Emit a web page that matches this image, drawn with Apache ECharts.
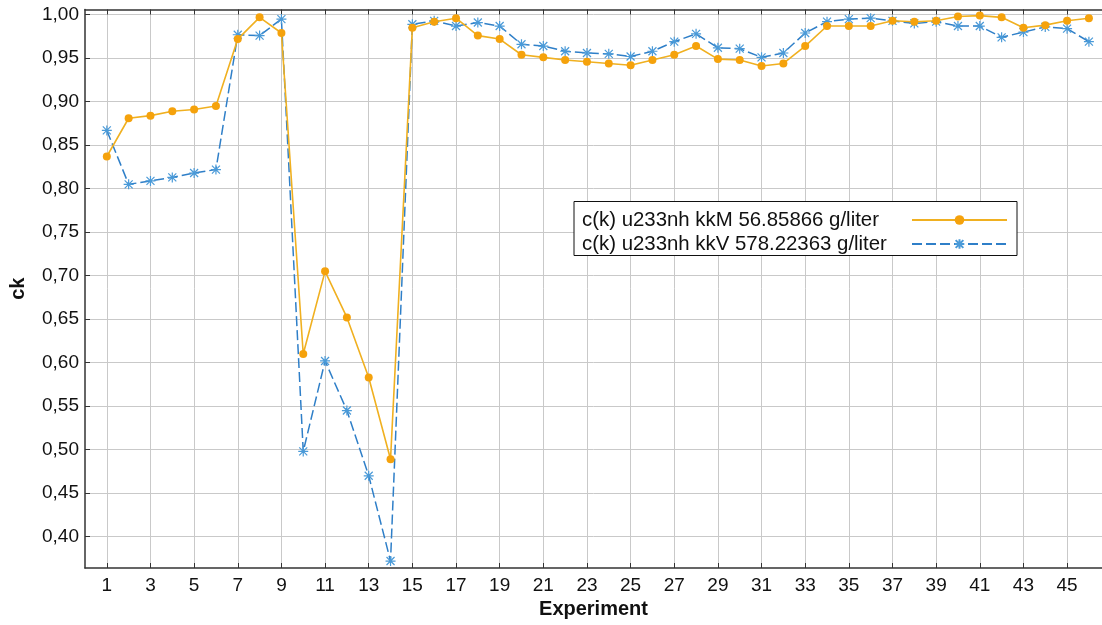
<!DOCTYPE html>
<html>
<head>
<meta charset="utf-8">
<script src="https://cdn.jsdelivr.net/npm/echarts@6/dist/echarts.min.js"></script>
<style>
html,body{margin:0;padding:0;background:#fff;}
#chart{width:1102px;height:625px;}
</style>
</head>
<body>
<div id="chart"></div>
<script>
const experiments = [1,2,3,4,5,6,7,8,9,10,11,12,13,14,15,16,17,18,19,20,21,22,23,24,25,26,27,28,29,30,31,32,33,34,35,36,37,38,39,40,41,42,43,44,45,46];
const kkM = [0.837,0.881,0.884,0.889,0.891,0.895,0.972,0.997,0.979,0.610,0.705,0.652,0.583,0.489,0.985,0.992,0.996,0.976,0.972,0.954,0.951,0.948,0.946,0.944,0.942,0.948,0.954,0.964,0.949,0.948,0.941,0.944,0.964,0.987,0.987,0.987,0.993,0.992,0.993,0.998,0.999,0.997,0.985,0.988,0.993,0.996];
const kkV = [0.867,0.805,0.809,0.813,0.818,0.822,0.977,0.976,0.995,0.498,0.602,0.545,0.470,0.372,0.989,0.993,0.987,0.991,0.987,0.966,0.964,0.958,0.956,0.955,0.952,0.958,0.969,0.978,0.962,0.961,0.951,0.956,0.979,0.992,0.995,0.996,0.993,0.990,0.992,0.987,0.987,0.974,0.980,0.986,0.984,0.969];
const xTicks = [1,3,5,7,9,11,13,15,17,19,21,23,25,27,29,31,33,35,37,39,41,43,45];
const yTicks = [0.40,0.45,0.50,0.55,0.60,0.65,0.70,0.75,0.80,0.85,0.90,0.95,1.00];
const seriesNames = ['c(k) u233nh kkM 56.85866 g/liter','c(k) u233nh kkV 578.22363 g/liter'];

const FONT = 'Liberation Sans, Arial, sans-serif';
const pairs = (ys) => experiments.map((x, i) => [x, ys[i]]);
const gridColor = '#c9c9c9';
const axisColor = '#333';

const chart = echarts.init(document.getElementById('chart'), null, {renderer:'canvas'});
chart.setOption({
  animation: false,
  backgroundColor: '#fff',
  grid: {left: 85, right: 0, top: 9.5, bottom: 57, containLabel: false},
  legend: {
    orient: 'vertical',
    left: 574, top: 201.5,
    align: 'right',
    backgroundColor: '#fff',
    borderColor: '#111', borderWidth: 1, borderRadius: 0,
    padding: [7, 9, 0, 8],
    itemGap: 1,
    itemWidth: 95, itemHeight: 12,
    formatter: name => '{t|' + name + '}',
    textStyle: {fontFamily: FONT, fontSize: 20.4, color: '#111', lineHeight: 23,
      rich: {t: {fontFamily: FONT, fontSize: 20.4, color: '#111', lineHeight: 23, width: 325, align: 'left'}}},
    data: seriesNames
  },
  xAxis: [{
    type: 'value', min: 0, max: 46.6,
    axisLine: {lineStyle: {color: axisColor, width: 1.5}},
    axisTick: {inside: true, length: 5, customValues: xTicks, lineStyle: {color: axisColor}},
    axisLabel: {customValues: xTicks, fontFamily: FONT, fontSize: 19, color: '#111', margin: 8},
    splitLine: {show: true, lineStyle: {color: gridColor, width: 1}},
    name: 'Experiment', nameLocation: 'middle', nameGap: 28,
    nameTextStyle: {fontFamily: FONT, fontSize: 20, fontWeight: 'bold', color: '#111'}
  }, {
    type: 'value', min: 0, max: 46.6, position: 'top',
    axisLine: {show: true, lineStyle: {color: axisColor, width: 1.5}},
    axisTick: {show: true, inside: true, length: 5, customValues: xTicks, lineStyle: {color: axisColor}},
    axisLabel: {show: false},
    splitLine: {show: false}
  }],
  yAxis: {
    type: 'value', min: 0.364, max: 1.006,
    axisLine: {show: true, lineStyle: {color: axisColor, width: 1.5}},
    axisTick: {show: true, inside: true, length: 5, customValues: yTicks, lineStyle: {color: axisColor}},
    axisLabel: {customValues: yTicks, fontFamily: FONT, fontSize: 19, color: '#111', margin: 6,
      formatter: v => v.toFixed(2).replace('.', ',')},
    splitLine: {show: true, lineStyle: {color: gridColor, width: 1}},
    name: 'ck', nameLocation: 'middle', nameGap: 57, nameRotate: 90,
    nameTextStyle: {fontFamily: FONT, fontSize: 20, fontWeight: 'bold', color: '#111'}
  },
  series: [{
    name: seriesNames[0], type: 'line', data: pairs(kkM),
    symbol: 'circle', symbolSize: 8,
    itemStyle: {color: '#f5a20c'},
    lineStyle: {color: '#f0b020', width: 1.6},
    z: 3
  }, {
    name: seriesNames[1], type: 'line', data: pairs(kkV),
    symbol: 'path://M1,1L9,9M9,1L1,9M5,0L5,10M0,5L10,5', symbolSize: 10,
    itemStyle: {color: 'rgba(0,0,0,0)', borderColor: '#4a9ad8', borderWidth: 1.2},
    lineStyle: {color: '#2f7fc8', width: 1.5, type: [10, 4]},
    z: 2
  }]
});
</script>
</body>
</html>
